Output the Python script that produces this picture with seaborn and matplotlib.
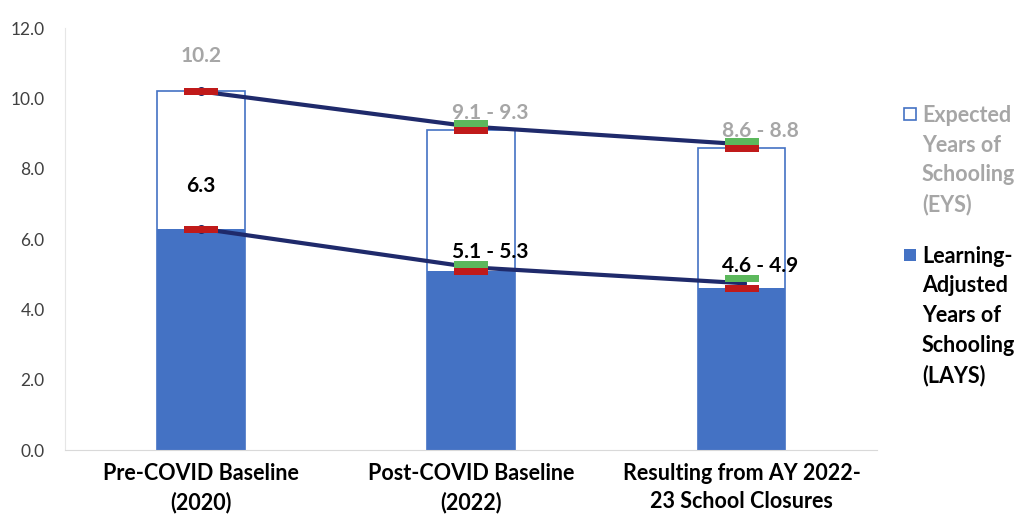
import numpy as np
import pandas as pd
import matplotlib.pyplot as plt
import seaborn as sns
from matplotlib.path import Path
from matplotlib.patches import Rectangle

# data
categories = ['Pre-COVID Baseline\n(2020)', 'Post-COVID Baseline\n(2022)', 'Resulting from AY 2022-\n23 School Closures']
eys = [10.2, 9.1, 8.6]
lays = [6.3, 5.1, 4.6]
eys_low = [10.2, 9.1, 8.6]
eys_high = [np.nan, 9.3, 8.8]
lays_low = [6.3, 5.1, 4.6]
lays_high = [np.nan, 5.3, 4.9]
eys_line = [10.2, 9.2, 8.7]
lays_line = [6.3, 5.2, 4.75]
eys_labels = ['10.2', '9.1 - 9.3', '8.6 - 8.8']
lays_labels = ['6.3', '5.1 - 5.3', '4.6 - 4.9']
legend_labels = ['Expected\nYears of\nSchooling\n(EYS)',
                 'Learning-\nAdjusted\nYears of\nSchooling\n(LAYS)']

sns.set_style('white')
plt.rcParams['font.family'] = ['Lato', 'DejaVu Sans']

blue = '#4472C4'
navy = '#1F2A6B'
red = '#C01A1A'
green = '#5CB85C'

df = pd.DataFrame({'cat': categories, 'eys': eys, 'lays': lays})
df['pos'] = np.arange(len(df))

fig = plt.figure(figsize=(10.23, 5.21), dpi=100)
ax = fig.add_axes([0.064, 0.136, 0.793, 0.81])

sns.barplot(data=df, x='cat', y='eys', color='white', edgecolor=blue, linewidth=1.2,
            width=0.325, saturation=1, ax=ax)
sns.barplot(data=df, x='cat', y='lays', color=blue, edgecolor=blue, linewidth=0,
            width=0.325, saturation=1, ax=ax)

# connecting lines
ax.plot(df['pos'], eys_line, color=navy, lw=3.0, zorder=3, solid_capstyle='round')
ax.plot(df['pos'], lays_line, color=navy, lw=3.0, zorder=3, solid_capstyle='round')
ax.scatter(df['pos'], eys_line, s=30, color=navy, zorder=3)
ax.scatter(df['pos'], lays_line, s=30, color=navy, zorder=3)

# range markers (flat rectangles)
rect = Path([(-1, -0.21), (1, -0.21), (1, 0.21), (-1, 0.21), (-1, -0.21)],
            [Path.MOVETO, Path.LINETO, Path.LINETO, Path.LINETO, Path.CLOSEPOLY])
for vals, col in [(eys_low, red), (eys_high, green), (lays_low, red), (lays_high, green)]:
    sns.scatterplot(x=df['pos'], y=vals, marker=rect, s=24 ** 2, color=col,
                    linewidth=0, zorder=4, ax=ax, legend=False)

# value labels
for i in range(len(df)):
    dx = 0 if i == 0 else 0.07
    ey = eys[i] + 1.0 if i == 0 else eys_high[i] + 0.28
    ax.text(i + dx, ey, eys_labels[i], ha='center', va='center', fontsize=15,
            fontweight='bold', color='#A6A6A6', zorder=5)
    ly = lays[i] + 1.2 if i == 0 else lays_high[i] + 0.33
    ax.text(i + dx, ly, lays_labels[i], ha='center', va='center', fontsize=15,
            fontweight='bold', color='black', zorder=5)

ax.set_ylim(0, 12)
ax.set_xlim(-0.5, 2.5)
ax.set_yticks(np.arange(0, 12.1, 2))
ax.set_yticklabels([f'{v:.1f}' for v in np.arange(0, 12.1, 2)], fontsize=12.5, color='#404040')
ax.tick_params(axis='x', labelsize=15.5, colors='black', pad=9, length=0)
ax.tick_params(axis='y', length=0, pad=15)
for lbl in ax.get_xticklabels():
    lbl.set_fontweight('bold')
    lbl.set_linespacing(1.45)
ax.set_xlabel('')
ax.set_ylabel('')
for s in ['top', 'right']:
    ax.spines[s].set_visible(False)
ax.spines['bottom'].set_color('#D9D9D9')
ax.spines['left'].set_color('#E6E6E6')

# legend drawn by hand so the swatch sits next to the first line
W, H = fig.get_size_inches() * fig.dpi
swatches = [dict(facecolor='white', edgecolor=blue, lw=1.2), dict(facecolor=blue, edgecolor=blue, lw=0)]
text_colors = ['#A6A6A6', 'black']
tops = [105, 246]
for lab, sw, tc, top in zip(legend_labels, swatches, text_colors, tops):
    fig.patches.append(Rectangle((904 / W, 1 - (top + 15) / H), 12 / W, 12 / H,
                                 transform=fig.transFigure, **sw))
    fig.text(922 / W, 1 - top / H, lab, ha='left', va='top', fontsize=15.5,
             fontweight='bold', color=tc, linespacing=1.5)

fig.savefig('out.png', dpi=100)
